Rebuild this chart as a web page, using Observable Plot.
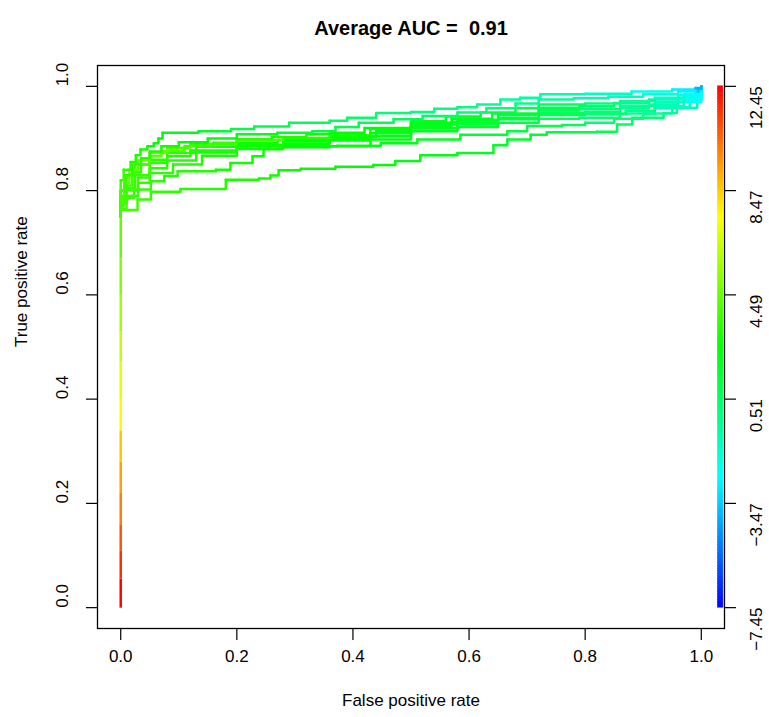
<!DOCTYPE html>
<html><head><meta charset="utf-8">
<script src="https://cdn.jsdelivr.net/npm/d3@7"></script>
<script src="https://cdn.jsdelivr.net/npm/@observablehq/plot@0.6"></script>
<style>
body{margin:0;background:#fff}
svg{font-family:"Liberation Sans",Arial,Helvetica,sans-serif}
svg text{white-space:pre}
</style>
</head><body><div id="chart"></div>
<script>
// ---------- text ----------
const title = "Average AUC =  0.91";
const xLabel = "False positive rate";
const yLabel = "True positive rate";

// ---------- ticks ----------
const xTicks = [0, 0.2, 0.4, 0.6, 0.8, 1.0];
const yTicks = [0, 0.2, 0.4, 0.6, 0.8, 1.0];
const cutoffTicks = [-7.45, -3.47, 0.51, 4.49, 8.47, 12.45];
const cutoffTickLabels = ["\u22127.45", "\u22123.47", "0.51", "4.49", "8.47", "12.45"];
const cutoffRange = [-7.45, 12.45];

// ---------- shared vertical stem at fpr = 0: [fpr, tpr, cutoff] ----------
const stem = [[0,0,12.45],[0,0.056,11.6],[0,0.11,10.8],[0,0.16,10.0],[0,0.22,9.3],[0,0.28,8.6],
  [0,0.34,7.6],[0,0.4,6.9],[0,0.47,6.3],[0,0.53,5.6],[0,0.6,4.9],[0,0.67,4.3],[0,0.75,3.8]];

// ---------- ten ROC curves: [fpr, tpr, cutoff] ----------
const curve1 = [[0,0.75,3.8],[0,0.82,3.6],[0.005,0.84,3.4],[0.017,0.855,3.2],[0.026,0.868,3.0],[0.034,0.879,2.9],[0.046,0.885,2.7],[0.057,0.891,2.5],[0.065,0.9,2.3],[0.072,0.911,2.1],[0.134,0.914,1.6],[0.19,0.918,1.3],[0.23,0.923,1.1],[0.29,0.93,0.9],[0.36,0.934,0.6],[0.39,0.94,0.5],[0.44,0.949,0.3],[0.5,0.951,0.1],[0.54,0.957,0],[0.58,0.96,-0.1],[0.614,0.965,-0.3],[0.654,0.975,-0.5],[0.688,0.978,-0.7],[0.723,0.985,-0.9],[0.8,0.986,-1.3],[0.88,0.99,-2.0],[0.95,0.994,-2.8],[0.99,0.997,-4.0],[1,1,-6.0]];
const curve2 = [[0,0.75,3.8],[0,0.8,3.6],[0.008,0.83,3.4],[0.02,0.85,3.3],[0.035,0.862,3.1],[0.05,0.875,3.0],[0.07,0.885,2.8],[0.1,0.893,2.5],[0.15,0.9,2.2],[0.2,0.908,1.9],[0.27,0.911,1.6],[0.33,0.914,1.3],[0.37,0.922,1.1],[0.41,0.93,0.9],[0.47,0.937,0.7],[0.52,0.943,0.5],[0.58,0.95,0.3],[0.63,0.958,0.1],[0.68,0.967,-0.2],[0.72,0.975,-0.4],[0.78,0.977,-0.8],[0.84,0.98,-1.2],[0.9,0.985,-1.8],[0.96,0.99,-2.7],[0.99,0.995,-3.8],[1,1,-5.8]];
const curve3 = [[0,0.75,3.9],[0,0.79,3.8],[0.006,0.815,4.2],[0.015,0.84,4.5],[0.03,0.858,4.6],[0.05,0.872,4.4],[0.08,0.882,4.0],[0.12,0.89,3.6],[0.2,0.899,3.3],[0.26,0.903,3.0],[0.32,0.908,2.7],[0.36,0.911,2.5],[0.42,0.92,2.3],[0.5,0.933,2.0],[0.56,0.942,1.7],[0.62,0.95,1.3],[0.68,0.958,0.9],[0.72,0.965,0.6],[0.8,0.967,0.1],[0.86,0.972,-0.5],[0.92,0.978,-1.3],[0.97,0.985,-2.5],[1,1,-5.2]];
const curve4 = [[0,0.75,3.8],[0,0.8,3.7],[0.01,0.83,3.6],[0.025,0.85,3.8],[0.05,0.866,4.2],[0.07,0.876,4.0],[0.11,0.885,3.6],[0.16,0.892,3.4],[0.2,0.897,3.9],[0.28,0.901,3.3],[0.36,0.906,2.9],[0.43,0.918,2.6],[0.5,0.93,2.3],[0.57,0.938,1.9],[0.64,0.948,1.5],[0.72,0.959,1.0],[0.79,0.962,0.4],[0.85,0.968,-0.2],[0.91,0.975,-0.9],[0.96,0.983,-2.0],[0.99,0.99,-3.5],[1,1,-5.6]];
const curve5 = [[0,0.75,3.8],[0,0.785,3.7],[0.008,0.81,3.6],[0.02,0.835,3.5],[0.035,0.85,3.4],[0.05,0.859,3.3],[0.08,0.872,3.1],[0.13,0.884,2.9],[0.2,0.891,2.7],[0.27,0.897,2.5],[0.36,0.903,2.3],[0.44,0.915,2.1],[0.5,0.927,1.9],[0.58,0.936,1.6],[0.65,0.945,1.2],[0.72,0.954,0.8],[0.79,0.956,0.2],[0.86,0.963,-0.4],[0.92,0.97,-1.2],[0.97,0.98,-2.4],[1,1,-5.4]];
const curve6 = [[0,0.75,3.8],[0,0.78,3.7],[0.01,0.805,3.6],[0.025,0.83,3.5],[0.05,0.853,3.3],[0.08,0.866,3.1],[0.12,0.877,2.9],[0.2,0.888,2.7],[0.28,0.894,2.5],[0.36,0.899,2.3],[0.43,0.91,2.1],[0.5,0.924,1.9],[0.57,0.932,1.6],[0.65,0.94,1.2],[0.72,0.949,0.8],[0.8,0.951,0.2],[0.86,0.958,-0.3],[0.91,0.965,-1.0],[0.96,0.975,-2.1],[0.99,0.985,-3.4],[1,1,-5.5]];
const curve7 = [[0,0.75,3.8],[0,0.775,3.7],[0.01,0.8,3.6],[0.03,0.825,3.4],[0.05,0.843,3.3],[0.08,0.858,3.1],[0.13,0.873,2.9],[0.2,0.885,2.7],[0.28,0.89,2.5],[0.36,0.896,2.3],[0.43,0.905,2.1],[0.5,0.92,1.9],[0.58,0.928,1.6],[0.65,0.937,1.2],[0.72,0.945,0.8],[0.8,0.947,0.3],[0.87,0.953,-0.3],[0.92,0.962,-1.1],[0.97,0.975,-2.3],[1,1,-5.3]];
const curve8 = [[0,0.75,3.8],[0,0.765,3.7],[0.01,0.79,3.6],[0.03,0.815,3.4],[0.05,0.834,3.3],[0.09,0.85,3.1],[0.14,0.867,2.9],[0.2,0.88,2.7],[0.28,0.883,2.5],[0.36,0.885,2.3],[0.43,0.898,2.1],[0.5,0.914,1.9],[0.58,0.922,1.6],[0.65,0.93,1.2],[0.72,0.938,0.8],[0.79,0.94,0.3],[0.86,0.948,-0.3],[0.92,0.958,-1.1],[0.97,0.97,-2.3],[1,1,-5.3]];
const curve9 = [[0,0.75,3.8],[0,0.77,3.7],[0.005,0.786,3.6],[0.023,0.802,3.4],[0.052,0.818,3.3],[0.075,0.828,3.2],[0.098,0.837,3.1],[0.164,0.84,2.9],[0.189,0.853,2.8],[0.227,0.866,2.7],[0.246,0.88,2.6],[0.278,0.885,2.5],[0.373,0.886,2.3],[0.448,0.891,2.1],[0.511,0.898,1.9],[0.585,0.907,1.6],[0.666,0.914,1.3],[0.7,0.924,1.1],[0.76,0.926,0.7],[0.8,0.93,0.4],[0.85,0.938,0],[0.9,0.948,-0.6],[0.95,0.96,-1.4],[0.98,0.975,-2.5],[1,1,-5.0]];
const curve10 = [[0,0.75,3.8],[0,0.763,3.7],[0.029,0.783,3.5],[0.052,0.798,3.4],[0.103,0.803,3.2],[0.181,0.821,3.0],[0.238,0.823,2.9],[0.258,0.829,2.8],[0.272,0.839,2.7],[0.31,0.842,2.6],[0.37,0.846,2.5],[0.435,0.849,2.4],[0.473,0.857,2.3],[0.516,0.868,2.2],[0.58,0.872,2.0],[0.642,0.887,1.8],[0.666,0.898,1.7],[0.706,0.907,1.5],[0.734,0.912,1.3],[0.82,0.913,0.9],[0.855,0.927,0.6],[0.881,0.94,0.3],[0.935,0.949,-0.3],[0.958,0.959,-0.8],[0.993,0.972,-1.8],[0.993,0.99,-3.0],[1,1,-5.0]];
const curves = [curve10, curve9, curve8, curve7, curve6, curve5, curve4, curve3, curve2, curve1];

// ---------- helpers ----------
const [cMin, cMax] = cutoffRange;
function rainbow(c) { // R: rev(rainbow(256, start=0, end=4/6))
  const t = Math.max(0, Math.min(1, (c - cMin) / (cMax - cMin)));
  return d3.hsl((1 - t) * 240, 1, 0.5).formatHex();
}
const cutPos = c => (c - cMin) / (cMax - cMin);   // cutoff -> position on tpr axis

const xDom = [-0.04, 1.04], yDom = [-0.04, 1.04];
const W = 769, H = 717, mL = 97, mR = 45, mT = 65, mB = 89;
const pxu = (W - mL - mR) / (xDom[1] - xDom[0]);
const pyu = (H - mT - mB) / (yDom[1] - yDom[0]);

function toSegs(cv) {
  const out = [];
  for (let i = 0; i < cv.length - 1; i++)
    out.push({x1: cv[i][0], y1: cv[i][1], x2: cv[i+1][0], y2: cv[i+1][1], c: cv[i][2]});
  return out;
}
const stemSegs = toSegs(stem);
const curveSegs = curves.flatMap(toSegs);

// colour bar bins (legend gradient)
const nBins = 200;
const bins = d3.range(nBins).map(i => ({lo: cMin + i * (cMax - cMin) / nBins, hi: cMin + (i + 1) * (cMax - cMin) / nBins}));
const barX = 1.0335, barHalf = 2.6 / pxu;
const fs = 17;

const chart = Plot.plot({
  width: W, height: H,
  marginLeft: mL, marginRight: mR, marginTop: mT, marginBottom: mB,
  x: {domain: xDom, axis: null},
  y: {domain: yDom, axis: null},
  style: {fontFamily: '"Liberation Sans", Arial, sans-serif', color: "black", background: "white"},
  marks: [
    Plot.link(stemSegs, {x1: "x1", y1: "y1", x2: "x2", y2: "y2", stroke: d => rainbow(d.c), strokeWidth: 2.5}),
    Plot.link(curveSegs, {x1: "x1", y1: "y1", x2: "x2", y2: "y2", stroke: d => rainbow(d.c), strokeWidth: 2.5,
      curve: "step-after", strokeLinejoin: "round", strokeLinecap: "round"}),
    Plot.rect(bins, {x1: barX - barHalf, x2: barX + barHalf, y1: d => cutPos(d.lo), y2: d => cutPos(d.hi),
      fill: d => rainbow((d.lo + d.hi) / 2), stroke: d => rainbow((d.lo + d.hi) / 2), strokeWidth: 0.6}),
    Plot.frame({stroke: "black", strokeWidth: 1.3}),
    // bottom axis
    Plot.ruleX(xTicks, {x: d => d, y1: yDom[0], y2: yDom[0] - 12 / pyu, stroke: "black", strokeWidth: 1.2}),
    Plot.text(xTicks, {x: d => d, text: d => d.toFixed(1), frameAnchor: "bottom", dy: 33, fontSize: fs}),
    // left axis
    Plot.ruleY(yTicks, {y: d => d, x1: xDom[0], x2: xDom[0] - 11 / pxu, stroke: "black", strokeWidth: 1.2}),
    Plot.text(yTicks, {y: d => d, text: d => d.toFixed(1), frameAnchor: "left", dx: -35, rotate: -90, fontSize: fs}),
    // right colour-bar axis
    Plot.ruleY(cutoffTicks, {y: d => cutPos(d), x1: xDom[1], x2: xDom[1] + 12 / pxu, stroke: "black", strokeWidth: 1.2}),
    Plot.text(cutoffTicks, {y: d => cutPos(d), text: (d, i) => cutoffTickLabels[i], frameAnchor: "right", dx: 32, rotate: -90, fontSize: fs}),
    // titles
    Plot.text([xLabel], {text: d => d, frameAnchor: "bottom", dy: 77, fontSize: fs}),
    Plot.text([yLabel], {text: d => d, frameAnchor: "left", dx: -76, rotate: -90, fontSize: fs}),
    Plot.text([title], {text: d => d, frameAnchor: "top", dy: -45, fontSize: 20, fontWeight: "bold"})
  ]
});
document.getElementById("chart").appendChild(chart);
</script>
</body></html>
